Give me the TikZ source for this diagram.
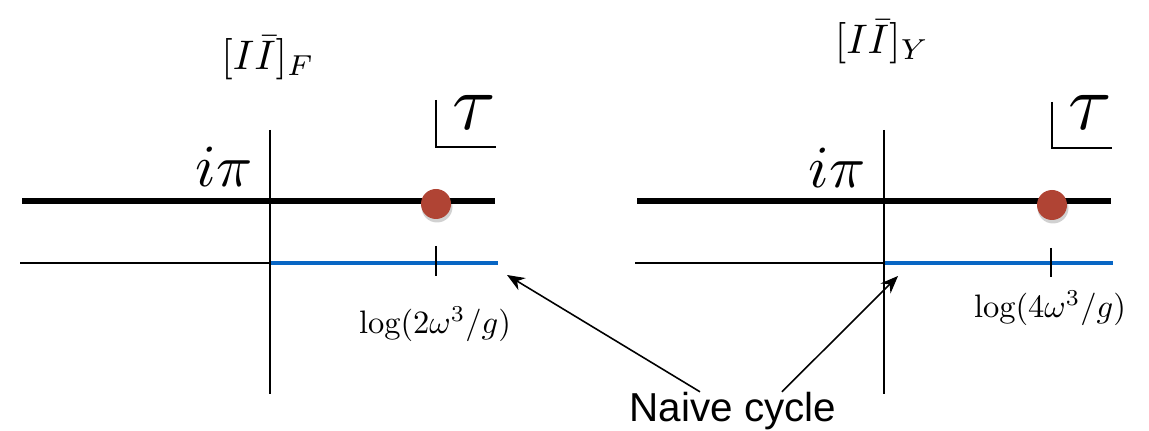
\documentclass[tikz,border=0pt]{standalone}
\usepackage{fontspec}
\usepackage{tikz}
\usetikzlibrary{arrows.meta,positioning}
\newfontfamily\cyclefont{Liberation Sans}
\definecolor{cutblue}{RGB}{8,102,196}
\definecolor{saddlered}{RGB}{176,68,52}

\begin{document}
\begin{tikzpicture}[x=0.02cm,y=-0.02cm,
  axis/.style={line width=.85pt},
  stokes/.style={line width=3.4pt},
  cut/.style={cutblue,line width=2.8pt},
  conn/.style={-{Stealth[length=10pt,width=8pt]},line width=.9pt}]
\useasboundingbox (0,0) rectangle (1149,431);
% left plane
\draw[stokes] (22,201)--(495,201);
\draw[axis] (20,263)--(270,263);
\draw[cut] (270,263)--(498,263);
\draw[axis] (270,130)--(270,394);
\draw[line width=1pt] (436,246)--(436,276);
\draw[axis] (436,100)--(436,147)--(496,147);
\fill[black,opacity=.18] (437,207) circle (0.31cm);
\fill[saddlered] (436,204) circle (0.3cm);
\node (titleF) at (268,58) {\scalebox{2.35}{$[I\bar I]_F$}};
\node[anchor=base east,inner sep=0] (ipiF) at (253,187) {\scalebox{3.4}{$i\pi$}};
\node[anchor=base west,inner sep=0] (tauF) at (452,130) {\scalebox{4.5}{$\tau$}};
\node (logF) at (435,324) {\scalebox{1.85}{$\log(2\omega^3/g)$}};
% right plane
\draw[stokes] (637,201)--(1111,201);
\draw[axis] (635,263)--(884,263);
\draw[cut] (884,263)--(1113,263);
\draw[axis] (884,130)--(884,394);
\draw[line width=1pt] (1051,248)--(1051,277);
\draw[axis] (1052,102)--(1052,148)--(1112,148);
\fill[black,opacity=.18] (1053,208) circle (0.31cm);
\fill[saddlered] (1052,205) circle (0.3cm);
\node (titleY) at (882,42) {\scalebox{2.35}{$[I\bar I]_Y$}};
\node[anchor=base east,inner sep=0] (ipiY) at (866,188) {\scalebox{3.4}{$i\pi$}};
\node[anchor=base west,inner sep=0] (tauY) at (1068,130) {\scalebox{4.5}{$\tau$}};
\node (logY) at (1050,308) {\scalebox{1.85}{$\log(4\omega^3/g)$}};
% label and arrows
\node[inner sep=0,font=\cyclefont\fontsize{23}{28}\selectfont] (naive) at (733,411) {Naive cycle};
\coordinate (cycF) at (507,275);
\coordinate (cycY) at (898,276);
\draw[conn] ([xshift=-0.66cm]naive.north) -- (cycF);
\draw[conn] ([xshift=0.98cm]naive.north) -- (cycY);
\end{tikzpicture}
\end{document}
